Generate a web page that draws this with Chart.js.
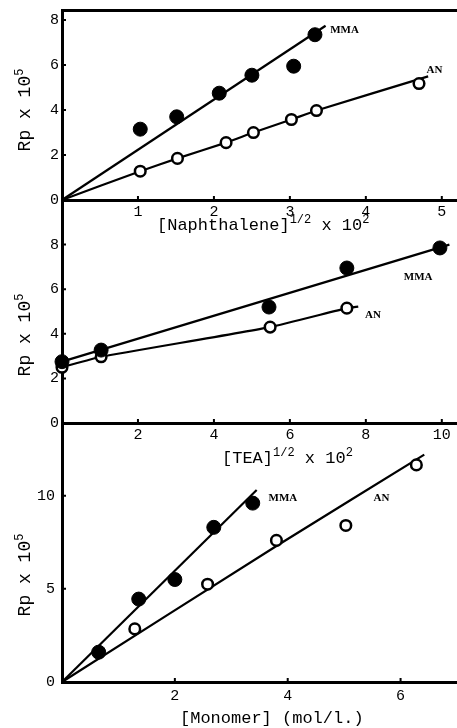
<!DOCTYPE html>
<html>
<head>
<meta charset="utf-8">
<script src="https://cdn.jsdelivr.net/npm/chart.js@4/dist/chart.umd.min.js"></script>
<style>
  body { margin: 0; background: #fff; width: 457px; height: 728px; overflow: hidden; position: relative; font-family: 'Liberation Mono', monospace; color: #000; }
  canvas { position: absolute; left: 0; }
  .t { position: absolute; font-size: 17px; line-height: 17px; white-space: nowrap; }
  .t sup { font-size: 12px; line-height: 0; }
  .yt { transform: translate(-50%, -50%) rotate(-90deg); font-size: 18px; }
</style>
</head>
<body>
<canvas id="c1" width="457" height="240" style="top:0"></canvas>
<canvas id="c2" width="457" height="265" style="top:200px"></canvas>
<canvas id="c3" width="457" height="305" style="top:423px"></canvas>

<div class="t yt" style="left:25px;top:110px">Rp x 10<sup>5</sup></div>
<div class="t yt" style="left:25px;top:335px">Rp x 10<sup>5</sup></div>
<div class="t yt" style="left:25px;top:575px">Rp x 10<sup>5</sup></div>
<div class="t" style="left:157px;top:217px">[Naphthalene]<sup>1/2</sup> x 10<sup>2</sup></div>
<div class="t" style="left:222px;top:450px">[TEA]<sup>1/2</sup> x 10<sup>2</sup></div>
<div class="t" style="left:180px;top:710px">[Monomer] (mol/l.)</div>

<script>
// top panel: Rp vs [Naphthalene]^1/2 x 10^2
const naphX_MMA = [1.03, 1.51, 2.07, 2.5, 3.05, 3.33];
const naphRp_MMA = [3.15, 3.7, 4.75, 5.55, 5.95, 7.35];
const naphX_AN = [1.03, 1.52, 2.16, 2.52, 3.02, 3.35, 4.7];
const naphRp_AN = [1.28, 1.85, 2.55, 3.0, 3.58, 3.98, 5.18];
const naphLineX_MMA = [0, 3.47];
const naphLineRp_MMA = [0, 7.75];
const naphLineX_AN = [0, 1.03, 1.52, 2.16, 2.52, 3.02, 3.35, 4.82];
const naphLineRp_AN = [0, 1.28, 1.85, 2.55, 3.0, 3.58, 3.98, 5.5];
const naphXTicks = [1, 2, 3, 4, 5];
const naphYTicks = [0, 2, 4, 6, 8];

// middle panel: Rp vs [TEA]^1/2 x 10^2
const teaX_MMA = [0, 1.03, 5.45, 7.5, 9.95];
const teaRp_MMA = [2.75, 3.27, 5.2, 6.95, 7.85];
const teaX_AN = [0, 1.03, 5.48, 7.5];
const teaRp_AN = [2.5, 2.97, 4.3, 5.15];
const teaLineX_MMA = [0, 10.2];
const teaLineRp_MMA = [2.75, 8.0];
const teaLineX_AN = [0, 1.03, 5.48, 7.5, 7.8];
const teaLineRp_AN = [2.5, 2.97, 4.3, 5.15, 5.22];
const teaXTicks = [2, 4, 6, 8, 10];
const teaYTicks = [0, 2, 4, 6, 8];

// bottom panel: Rp vs [Monomer]
const monoX_MMA = [0.65, 1.36, 2.0, 2.69, 3.38];
const monoRp_MMA = [1.6, 4.45, 5.5, 8.3, 9.6];
const monoX_AN = [1.29, 2.58, 3.8, 5.03, 6.28];
const monoRp_AN = [2.85, 5.25, 7.6, 8.4, 11.65];
const monoLineX_MMA = [0, 3.45];
const monoLineRp_MMA = [0, 10.3];
const monoLineX_AN = [0, 3.8, 6.42];
const monoLineRp_AN = [0, 7.3, 12.2];
const monoXTicks = [2, 4, 6];
const monoYTicks = [0, 5, 10];

const pts = (xs, ys) => xs.map((x, i) => ({ x: x, y: ys[i] }));
const tickFont = { family: "'Liberation Mono', monospace", size: 15 };

const innerTicks = {
  id: 'innerTicks',
  beforeDatasetsDraw(chart) {
    const { ctx, scales: { x, y }, chartArea: a } = chart;
    ctx.save();
    ctx.strokeStyle = '#000';
    ctx.lineWidth = 2;
    ctx.beginPath();
    x.ticks.forEach(t => {
      const px = x.getPixelForValue(t.value);
      ctx.moveTo(px, a.bottom);
      ctx.lineTo(px, a.bottom - 4);
    });
    y.ticks.forEach(t => {
      if (t.value === 0) return;
      const py = y.getPixelForValue(t.value);
      ctx.moveTo(a.left, py);
      ctx.lineTo(a.left + 4, py);
    });
    ctx.stroke();
    ctx.restore();
  }
};

const seriesLabels = {
  id: 'seriesLabels',
  afterDraw(chart, args, opts) {
    const { ctx, scales: { x, y } } = chart;
    ctx.save();
    ctx.font = "bold 11px 'Liberation Serif', serif";
    ctx.fillStyle = '#000';
    ctx.textBaseline = 'middle';
    (opts.items || []).forEach(it => {
      ctx.fillText(it.text, x.getPixelForValue(it.x), y.getPixelForValue(it.y));
    });
    ctx.restore();
  }
};

function panel(id, p) {
  const scales = {
    x: {
      type: 'linear', position: 'bottom', min: 0, max: p.xMax,
      grid: { display: false, drawTicks: false },
      border: { display: true, width: 3, color: '#000' },
      ticks: { color: '#000', font: tickFont, padding: p.xPad, maxRotation: 0, callback: v => String(v) },
      afterBuildTicks: s => { s.ticks = p.xTicks.map(v => ({ value: v })); },
      afterFit: s => { s.height = p.xH; s.paddingLeft = 0; s.paddingRight = 0; }
    },
    y: {
      type: 'linear', position: 'left', min: 0, max: p.yMax,
      grid: { display: false, drawTicks: false },
      border: { display: true, width: 3, color: '#000' },
      ticks: { color: '#000', font: tickFont, padding: p.yPad, callback: v => String(v) },
      afterBuildTicks: s => { s.ticks = p.yTicks.map(v => ({ value: v })); },
      afterFit: s => { s.width = 62; s.paddingTop = 0; s.paddingBottom = 0; }
    }
  };
  if (p.topH) {
    scales.x2 = {
      type: 'linear', position: 'top', min: 0, max: p.xMax,
      grid: { display: false, drawTicks: false },
      ticks: { display: false },
      border: { display: true, width: 3, color: '#000' },
      afterFit: s => { s.height = p.topH; }
    };
  }
  new Chart(document.getElementById(id), {
    type: 'scatter',
    data: {
      datasets: [
        { label: 'MMA', data: p.mma, pointRadius: 7, pointBackgroundColor: '#000', pointBorderColor: '#000', pointBorderWidth: 1, showLine: false, clip: false },
        { label: 'AN', data: p.an, pointRadius: 5.3, pointBackgroundColor: '#fff', pointBorderColor: '#000', pointBorderWidth: 2.5, showLine: false, clip: false },
        { label: 'MMA line', data: p.mmaLine, showLine: true, pointRadius: 0, borderColor: '#000', borderWidth: 2.2, clip: false },
        { label: 'AN line', data: p.anLine, showLine: true, pointRadius: 0, borderColor: '#000', borderWidth: 2.2, tension: 0.15, clip: false }
      ]
    },
    options: {
      responsive: false,
      devicePixelRatio: 1,
      animation: false,
      events: [],
      layout: { padding: 0, autoPadding: false },
      scales: scales,
      plugins: {
        legend: { display: false },
        tooltip: { enabled: false },
        seriesLabels: { items: p.labels }
      }
    },
    plugins: [innerTicks, seriesLabels]
  });
}

panel('c1', {
  xMax: 5.2, yMax: 8.45, xTicks: naphXTicks, yTicks: naphYTicks, xH: 40, topH: 10, xPad: 3, yPad: 3,
  mma: pts(naphX_MMA, naphRp_MMA), an: pts(naphX_AN, naphRp_AN),
  mmaLine: pts(naphLineX_MMA, naphLineRp_MMA), anLine: pts(naphLineX_AN, naphLineRp_AN),
  labels: [{ text: 'MMA', x: 3.53, y: 7.55 }, { text: 'AN', x: 4.8, y: 5.78 }]
});

panel('c2', {
  xMax: 10.4, yMax: 10, xTicks: teaXTicks, yTicks: teaYTicks, xH: 42, topH: 0, xPad: 3, yPad: 3,
  mma: pts(teaX_MMA, teaRp_MMA), an: pts(teaX_AN, teaRp_AN),
  mmaLine: pts(teaLineX_MMA, teaLineRp_MMA), anLine: pts(teaLineX_AN, teaLineRp_AN),
  labels: [{ text: 'MMA', x: 9.0, y: 6.55 }, { text: 'AN', x: 7.98, y: 4.84 }]
});

panel('c3', {
  xMax: 7.0, yMax: 13.9, xTicks: monoXTicks, yTicks: monoYTicks, xH: 46, topH: 0, xPad: 5, yPad: 7,
  mma: pts(monoX_MMA, monoRp_MMA), an: pts(monoX_AN, monoRp_AN),
  mmaLine: pts(monoLineX_MMA, monoLineRp_MMA), anLine: pts(monoLineX_AN, monoLineRp_AN),
  labels: [{ text: 'MMA', x: 3.66, y: 9.84 }, { text: 'AN', x: 5.52, y: 9.84 }]
});
</script>
</body>
</html>
